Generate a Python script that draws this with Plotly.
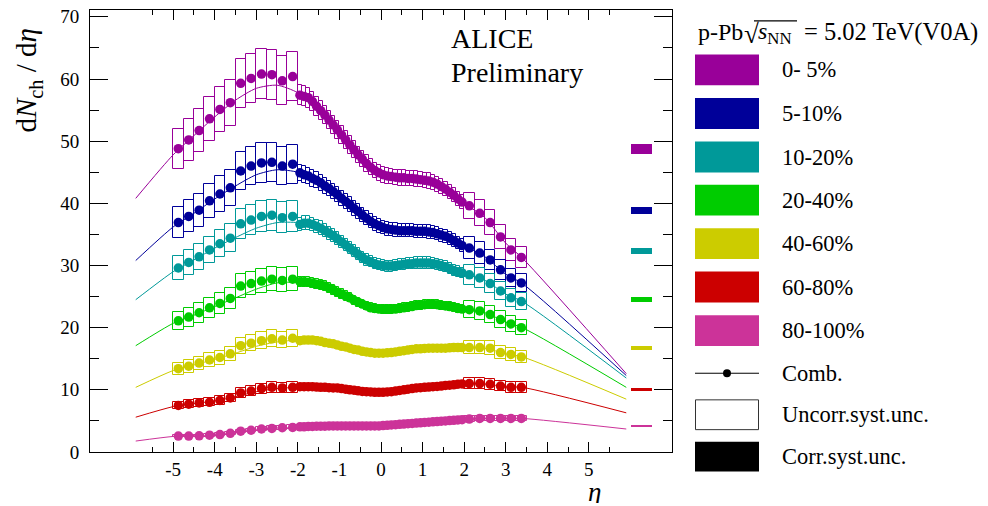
import plotly.graph_objects as go

# ---------------- data ----------------
centralities = ["0- 5%", "5-10%", "10-20%", "20-40%", "40-60%", "60-80%", "80-100%"]
colors = ["#990099", "#000099", "#009999", "#00cc00", "#cccc00", "#cc0000", "#cc3399"]

eta_bwd = [-4.875, -4.625, -4.375, -4.125, -3.875, -3.625, -3.375, -3.125, -2.875, -2.625, -2.375, -2.125]
eta_mid = [-1.95, -1.85, -1.75, -1.65, -1.55, -1.45, -1.35, -1.25, -1.15, -1.05,
           -0.95, -0.85, -0.75, -0.65, -0.55, -0.45, -0.35, -0.25, -0.15, -0.05,
           0.05, 0.15, 0.25, 0.35, 0.45, 0.55, 0.65, 0.75, 0.85, 0.95,
           1.05, 1.15, 1.25, 1.35, 1.45, 1.55, 1.65, 1.75, 1.85, 1.95]
eta_fwd = [2.125, 2.375, 2.625, 2.875, 3.125, 3.375]
eta_fit = [-5.9, -5.0, -4.5, -4.0, -3.5, -3.0, -2.5, -2.0, -1.5, -1.0, -0.5, 0.0,
           0.5, 1.0, 1.5, 2.0, 2.5, 3.0, 3.4, 5.9]

# 0-5%
bwd_0_5 = [48.8, 50.2, 51.7, 53.6, 55.1, 56.2, 59.3, 60.1, 60.8, 60.7, 59.7, 60.4]
mid_0_5 = [57.4, 57.2, 57.0, 56.4, 55.6, 54.9, 54.2, 53.4, 52.6, 51.8,
           51.0, 50.2, 49.4, 48.6, 47.8, 47.1, 46.4, 45.8, 45.3, 44.9,
           44.6, 44.4, 44.3, 44.2, 44.1, 44.1, 44.0, 44.0, 43.9, 43.8,
           43.7, 43.6, 43.4, 43.1, 42.7, 42.3, 41.8, 41.3, 40.7, 40.2]
fwd_0_5 = [39.6, 38.4, 36.9, 34.6, 32.5, 31.3]
fit_0_5 = [40.8, 47.8, 50.9, 53.9, 56.6, 58.5, 59.0, 57.8, 55.3, 51.5, 47.4, 44.7,
           44.0, 43.8, 42.5, 40.0, 37.7, 33.6, 31.2, 12.6]

# 5-10%
bwd_5_10 = [36.9, 37.9, 38.9, 40.4, 41.5, 42.5, 45.2, 46.0, 46.5, 46.6, 46.0, 46.3]
mid_5_10 = [44.9, 44.6, 44.4, 44.0, 43.7, 43.3, 42.8, 42.4, 41.9, 41.4,
            40.8, 40.3, 39.8, 39.2, 38.7, 38.1, 37.6, 37.1, 36.7, 36.4,
            36.1, 35.9, 35.8, 35.7, 35.6, 35.6, 35.6, 35.6, 35.5, 35.5,
            35.5, 35.4, 35.3, 35.1, 34.9, 34.7, 34.4, 34.0, 33.6, 33.2]
fwd_5_10 = [32.8, 32.0, 30.9, 29.3, 28.0, 27.2]
fit_5_10 = [30.8, 36.2, 38.4, 40.7, 42.8, 44.6, 45.4, 45.0, 43.5, 41.0, 38.3, 36.2,
            35.6, 35.5, 34.8, 33.2, 31.4, 28.6, 27.1, 12.3]

# 10-20%
bwd_10_20 = [29.6, 30.5, 31.4, 32.5, 33.5, 34.4, 36.7, 37.3, 37.9, 38.1, 37.7, 37.9]
mid_10_20 = [36.6, 36.8, 36.8, 36.6, 36.3, 36.0, 35.6, 35.2, 34.8, 34.3,
             33.8, 33.3, 32.8, 32.3, 31.8, 31.3, 30.9, 30.6, 30.3, 30.1,
             30.0, 29.9, 29.9, 30.0, 30.1, 30.2, 30.3, 30.3, 30.4, 30.4,
             30.4, 30.4, 30.3, 30.2, 30.0, 29.8, 29.5, 29.2, 29.0, 28.8]
fwd_10_20 = [28.5, 28.0, 27.1, 25.9, 24.8, 24.2]
fit_10_20 = [24.5, 29.0, 30.9, 32.8, 34.5, 36.0, 36.9, 36.9, 36.2, 34.2, 31.5, 30.0,
             30.2, 30.4, 29.9, 28.7, 27.6, 25.4, 24.2, 11.9]

# 20-40%
bwd_20_40 = [21.1, 21.7, 22.4, 23.2, 23.9, 24.7, 26.7, 27.1, 27.5, 27.8, 27.6, 27.8]
mid_20_40 = [27.4, 27.4, 27.3, 27.2, 27.0, 26.9, 26.7, 26.4, 26.1, 25.7,
             25.4, 25.1, 24.8, 24.4, 24.1, 23.8, 23.5, 23.2, 23.1, 23.0,
             22.95, 22.95, 22.95, 23.0, 23.1, 23.2, 23.3, 23.4, 23.55, 23.6,
             23.7, 23.75, 23.75, 23.7, 23.6, 23.5, 23.4, 23.3, 23.1, 23.0]
fwd_20_40 = [22.9, 22.7, 22.1, 21.3, 20.6, 20.0]
fit_20_40 = [17.1, 20.7, 22.0, 23.4, 24.8, 26.2, 27.2, 27.3, 26.9, 25.6, 23.9, 23.0,
             23.1, 23.6, 23.5, 22.9, 22.4, 20.9, 20.0, 10.4]

# 40-60%
bwd_40_60 = [13.4, 13.8, 14.3, 14.8, 15.2, 15.8, 17.1, 17.5, 17.9, 18.2, 18.0, 18.3]
mid_40_60 = [17.9, 18.0, 18.0, 18.0, 17.9, 17.8, 17.6, 17.5, 17.4, 17.2,
             17.0, 16.9, 16.7, 16.5, 16.4, 16.2, 16.1, 16.0, 15.9, 15.9,
             15.9, 15.95, 16.0, 16.1, 16.2, 16.3, 16.4, 16.5, 16.6, 16.6,
             16.65, 16.7, 16.7, 16.7, 16.7, 16.7, 16.75, 16.8, 16.8, 16.8]
fwd_40_60 = [16.8, 16.8, 16.7, 16.0, 15.7, 15.3]
fit_40_60 = [10.4, 13.1, 14.0, 14.9, 15.9, 17.0, 17.7, 18.0, 17.8, 17.1, 16.4, 15.9,
             16.2, 16.6, 16.7, 16.8, 16.7, 15.8, 15.3, 8.5]

# 60-80%
bwd_60_80 = [7.5, 7.7, 7.9, 8.0, 8.3, 8.7, 9.5, 9.8, 10.2, 10.4, 10.3, 10.4]
mid_60_80 = [10.5, 10.5, 10.5, 10.5, 10.45, 10.4, 10.4, 10.35, 10.3, 10.3,
             10.2, 10.1, 10.0, 9.95, 9.85, 9.75, 9.7, 9.65, 9.6, 9.6,
             9.6, 9.65, 9.7, 9.8, 9.9, 10.0, 10.1, 10.2, 10.3, 10.35,
             10.4, 10.45, 10.5, 10.55, 10.6, 10.7, 10.75, 10.8, 10.9, 10.95]
fwd_60_80 = [11.0, 11.0, 10.9, 10.6, 10.4, 10.4]
fit_60_80 = [5.6, 7.3, 7.8, 8.2, 8.9, 9.7, 10.2, 10.4, 10.4, 10.2, 9.8, 9.6,
             9.9, 10.4, 10.7, 10.95, 10.95, 10.5, 10.4, 6.3]

# 80-100%
bwd_80_100 = [2.56, 2.56, 2.6, 2.7, 2.8, 3.0, 3.35, 3.5, 3.7, 3.8, 3.9, 3.95]
mid_80_100 = [4.05, 4.05, 4.1, 4.1, 4.15, 4.15, 4.15, 4.2, 4.2, 4.2,
              4.2, 4.2, 4.2, 4.2, 4.2, 4.2, 4.2, 4.2, 4.2, 4.2,
              4.25, 4.3, 4.35, 4.4, 4.45, 4.5, 4.55, 4.6, 4.65, 4.7,
              4.75, 4.8, 4.85, 4.9, 4.95, 5.0, 5.05, 5.1, 5.15, 5.2]
fwd_80_100 = [5.3, 5.4, 5.4, 5.4, 5.4, 5.4]
fit_80_100 = [1.76, 2.5, 2.6, 2.75, 3.1, 3.6, 3.85, 4.0, 4.15, 4.2, 4.2, 4.25,
              4.45, 4.75, 5.0, 5.25, 5.4, 5.4, 5.4, 3.7]

# relative uncorrelated systematic uncertainties (backward, mid, forward)
unc_bwd = [0.066, 0.068, 0.066, 0.070, 0.074, 0.080, 0.080]
unc_mid = [0.028, 0.030, 0.030, 0.030, 0.030, 0.030, 0.030]
unc_fwd = [0.054, 0.054, 0.058, 0.062, 0.066, 0.080, 0.080]

# correlated systematic uncertainty markers (value, full height)
corr_eta = 6.27
corr_val = [48.7, 38.8, 32.4, 24.6, 16.8, 10.1, 4.15]
corr_size = [1.6, 1.1, 0.95, 0.8, 0.64, 0.5, 0.25]

x_tick_vals = [-5, -4, -3, -2, -1, 0, 1, 2, 3, 4, 5]
x_tick_text = ["-5", "-4", "-3", "-2", "-1", "0", "1", "2", "3", "4", "5"]
x_minor_vals = [-5.5, -4.5, -3.5, -2.5, -1.5, -0.5, 0.5, 1.5, 2.5, 3.5, 4.5, 5.5]

bwd = [bwd_0_5, bwd_5_10, bwd_10_20, bwd_20_40, bwd_40_60, bwd_60_80, bwd_80_100]
mid = [mid_0_5, mid_5_10, mid_10_20, mid_20_40, mid_40_60, mid_60_80, mid_80_100]
fwd = [fwd_0_5, fwd_5_10, fwd_10_20, fwd_20_40, fwd_40_60, fwd_60_80, fwd_80_100]
fit = [fit_0_5, fit_5_10, fit_10_20, fit_20_40, fit_40_60, fit_60_80, fit_80_100]

# ---------------- figure ----------------
FONT = "Liberation Serif"
W, H = 988, 506
L, R, T, B = 90, 672, 7, 452

fig = go.Figure()

for i in range(len(centralities)):
    c = colors[i]
    for etas, vals, frac, w in [(eta_bwd, bwd[i], unc_bwd[i], 0.25),
                                (eta_mid, mid[i], unc_mid[i], 0.1),
                                (eta_fwd, fwd[i], unc_fwd[i], 0.25)]:
        errs = [v * frac for v in vals]
        fig.add_trace(go.Bar(
            x=etas, y=[2 * e for e in errs], base=[v - e for v, e in zip(vals, errs)],
            width=w, marker=dict(color="rgba(0,0,0,0)", line=dict(color=c, width=1)),
            showlegend=False, hoverinfo="skip"))
    fig.add_trace(go.Scatter(
        x=eta_fit, y=fit[i], mode="lines",
        line=dict(color=c, width=1, shape="spline", smoothing=0.7),
        showlegend=False, hoverinfo="skip"))
    fig.add_trace(go.Scatter(
        x=eta_bwd + eta_mid + eta_fwd, y=bwd[i] + mid[i] + fwd[i], mode="markers",
        marker=dict(color=c, size=9.5, line=dict(width=0)),
        showlegend=False, name=centralities[i]))

fig.add_trace(go.Bar(
    x=[corr_eta] * len(corr_val), y=corr_size,
    base=[v - s / 2 for v, s in zip(corr_val, corr_size)],
    width=0.52, marker=dict(color=colors, line=dict(width=0)),
    showlegend=False, hoverinfo="skip"))


def px(x):
    return (x - L) / (R - L)


def py(y):
    return (B - y) / (B - T)


shapes = []
annotations = []


def text(t, x, y, size, xanchor="left", yanchor="middle", **kw):
    annotations.append(dict(text=t, x=px(x), y=py(y), xref="paper", yref="paper",
                            xanchor=xanchor, yanchor=yanchor, showarrow=False,
                            font=dict(family=FONT, size=size, color="black"), **kw))


# legend
row_y = [67.2, 111.2, 155.0, 198.5, 242.2, 285.9, 329.7, 372.7, 414.5, 456.7]
box_x0, box_x1, lab_x = 695, 759, 780
for i, (lab, c) in enumerate(zip(centralities, colors)):
    yc = row_y[i]
    shapes.append(dict(type="rect", xref="paper", yref="paper",
                       x0=px(box_x0), x1=px(box_x1), y0=py(yc + 15.5), y1=py(yc - 15.5),
                       fillcolor=c, line=dict(width=0)))
    text(lab, lab_x, yc, 22.5)
# Comb.
yc = row_y[7]
shapes.append(dict(type="line", xref="paper", yref="paper", x0=px(box_x0), x1=px(box_x1),
                   y0=py(yc), y1=py(yc), line=dict(color="black", width=1)))
shapes.append(dict(type="circle", xref="paper", yref="paper", x0=px(727 - 4), x1=px(727 + 4),
                   y0=py(yc + 4), y1=py(yc - 4), fillcolor="black", line=dict(width=0)))
text("Comb.", lab_x, yc, 22.5)
# Uncorr
yc = row_y[8]
shapes.append(dict(type="rect", xref="paper", yref="paper", x0=px(box_x0 + 0.5), x1=px(box_x1 - 0.5),
                   y0=py(yc + 15), y1=py(yc - 15), fillcolor="white", line=dict(color="#333", width=1)))
text("Uncorr.syst.unc.", lab_x, yc, 22.5)
# Corr
yc = row_y[9]
shapes.append(dict(type="rect", xref="paper", yref="paper", x0=px(box_x0), x1=px(box_x1),
                   y0=py(yc + 15), y1=py(yc - 15), fillcolor="black", line=dict(width=0)))
text("Corr.syst.unc.", lab_x, yc, 22.5)

# legend title: p-Pb sqrt(s_NN) = 5.02 TeV(V0A)
text("p-Pb", 696, 29, 24)
text("√", 742, 31, 27)
text("<i>s</i><sub>NN</sub>", 756, 30, 24)
shapes.append(dict(type="line", xref="paper", yref="paper", x0=px(754), x1=px(797),
                   y0=py(18), y1=py(18), line=dict(color="black", width=1.2)))
text("= 5.02 TeV(V0A)", 802, 29, 24.5)

# ALICE Preliminary
text("ALICE", 449, 36, 28)
text("Preliminary", 449, 69.5, 28)

# axis titles
text("d<i>N</i><sub>ch</sub> / d<i>η</i>", 28, 78, 29, xanchor="center", textangle=-90)
text("<i>η</i>", 594, 492, 27, xanchor="center", height=22)

fig.update_layout(
    width=W, height=H, autosize=False,
    margin=dict(l=L, r=W - R, t=T, b=H - B, pad=0),
    paper_bgcolor="white", plot_bgcolor="white",
    barmode="overlay", bargap=0,
    showlegend=False,
    shapes=shapes, annotations=annotations,
    xaxis=dict(range=[-7, 7], tickmode="array", tickvals=x_tick_vals, ticktext=x_tick_text,
               ticks="inside", ticklen=10, tickwidth=1, tickcolor="black",
               showline=True, linecolor="black", linewidth=1, mirror="ticks",
               showgrid=False, zeroline=False, ticklabelstandoff=0,
               minor=dict(tickmode="array", tickvals=x_minor_vals, ticks="inside",
                          ticklen=5, tickwidth=1, tickcolor="black", showgrid=False),
               tickfont=dict(family=FONT, size=19, color="black")),
    yaxis=dict(range=[0, 71.1], tickmode="linear", tick0=0, dtick=10,
               ticks="inside", ticklen=18, tickwidth=1, tickcolor="black",
               showline=True, linecolor="black", linewidth=1, mirror="ticks",
               showgrid=False, zeroline=False, ticklabelstandoff=6,
               minor=dict(tickmode="linear", tick0=0, dtick=5, ticks="inside",
                          ticklen=9, tickwidth=1, tickcolor="black", showgrid=False),
               tickfont=dict(family=FONT, size=19, color="black")),
)

fig.write_html("out.html")
